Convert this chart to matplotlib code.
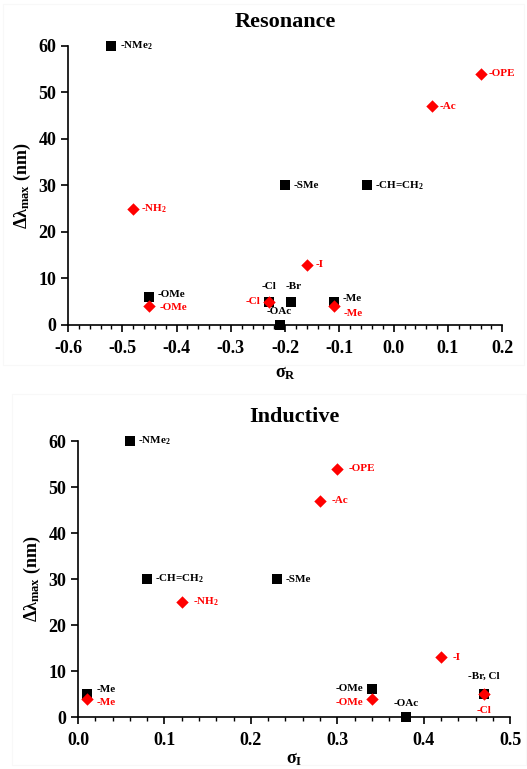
import matplotlib.pyplot as plt
from matplotlib.ticker import MultipleLocator

plt.rcParams['font.family'] = ['Liberation Serif', 'DejaVu Serif']
plt.rcParams['font.weight'] = 'bold'
plt.rcParams['axes.unicode_minus'] = False
plt.rcParams['mathtext.fontset'] = 'custom'
plt.rcParams['mathtext.rm'] = 'Liberation Serif:bold'
plt.rcParams['mathtext.it'] = 'Liberation Serif:bold'
plt.rcParams['mathtext.bf'] = 'Liberation Serif:bold'

# Resonance (sigma_R)
res_black_names = ['-NMe$_2$', '-SMe', '-CH=CH$_2$', '-OMe', '-Cl', '-Br', '-Me', '-OAc']
res_black_x = [-0.52, -0.20, -0.05, -0.45, -0.23, -0.19, -0.11, -0.21]
res_black_y = [60, 30, 30, 6, 5, 5, 5, 0]
res_red_names = ['-OPE', '-Ac', '-NH$_2$', '-I', '-OMe', '-Cl', '-Me']
res_red_x = [0.16, 0.07, -0.48, -0.16, -0.45, -0.23, -0.11]
res_red_y = [54, 47, 25, 13, 4, 5, 4]

# Inductive (sigma_I)
ind_black_names = ['-NMe$_2$', '-CH=CH$_2$', '-SMe', '-Me', '-OMe', '-OAc', '-Br, Cl']
ind_black_x = [0.06, 0.08, 0.23, 0.01, 0.34, 0.38, 0.47]
ind_black_y = [60, 30, 30, 5, 6, 0, 5]
ind_red_names = ['-OPE', '-Ac', '-NH$_2$', '-I', '-Me', '-OMe', '-Cl']
ind_red_x = [0.30, 0.28, 0.12, 0.42, 0.01, 0.34, 0.47]
ind_red_y = [54, 47, 25, 13, 4, 4, 5]

fig = plt.figure(figsize=(5.27, 7.69), dpi=100)

# faint panel frames
for rect in [(0.005, 0.525, 0.99, 0.47), (0.023, 0.005, 0.975, 0.483)]:
    fig.patches.append(plt.Rectangle(rect[:2], rect[2], rect[3], transform=fig.transFigure,
                                     fill=False, ec='#f8f8f8', lw=0.8))

ax1 = fig.add_axes([0.129, 0.5774, 0.824, 0.3628])
ax2 = fig.add_axes([0.148, 0.0676, 0.820, 0.3589])


def style(ax, xlim, xlabel, title, lpad):
    ax.set_xlim(*xlim)
    ax.set_ylim(0, 60)
    ax.spines['top'].set_visible(False)
    ax.spines['right'].set_visible(False)
    ax.spines['left'].set_linewidth(1.2)
    ax.spines['bottom'].set_linewidth(1.2)
    ax.xaxis.set_major_locator(MultipleLocator(0.1))
    ax.xaxis.set_minor_locator(MultipleLocator(0.02))
    ax.yaxis.set_major_locator(MultipleLocator(10))
    ax.tick_params(axis='both', which='major', direction='out', length=5, width=1.2,
                   labelsize=13)
    ax.tick_params(axis='x', which='minor', direction='out', length=3, width=1)
    ax.tick_params(axis='x', which='major', pad=6)
    ax.set_xlabel(xlabel, fontsize=13, fontweight='bold', labelpad=lpad)
    ax.set_ylabel(r'$\Delta\lambda_{\rm max}$ (nm)', fontsize=13, fontweight='bold')
    ax.set_title(title, fontsize=16, fontweight='bold', pad=14)


def plot_points(ax, xs, ys, color, marker, size):
    ax.scatter(xs, ys, marker=marker, s=size, color=color, zorder=3, clip_on=False,
               linewidths=0)


def label(ax, names, xs, ys, color, offsets):
    for n, x, y in zip(names, xs, ys):
        dx, dy, ha = offsets.get(n, (6, 0, 'left'))
        ax.annotate(n, (x, y), textcoords='offset points', xytext=(dx, dy),
                    ha=ha, va='center', fontsize=8, fontweight='bold', color=color,
                    zorder=4, annotation_clip=False)


style(ax1, (-0.6, 0.2), r'$\sigma_{\rm R}$', 'Resonance', 5)
plot_points(ax1, res_black_x, res_black_y, 'black', 's', 55)
plot_points(ax1, res_red_x, res_red_y, 'red', 'D', 40)
label(ax1, res_black_names, res_black_x, res_black_y, 'black',
      {'-Cl': (0, 11, 'center'), '-Br': (2, 11, 'center'), '-OAc': (0, 10, 'center'),
       '-OMe': (6, 2, 'left'), '-Me': (6, 2, 'left')})
label(ax1, res_red_names, res_red_x, res_red_y, 'red',
      {'-Cl': (-6, 0, 'right'), '-Me': (7, -5, 'left'), '-OMe': (7, -1, 'left')})

style(ax2, (0, 0.5), r'$\sigma_{\rm I}$', 'Inductive', 1)
plot_points(ax2, ind_black_x, ind_black_y, 'black', 's', 55)
plot_points(ax2, ind_red_x, ind_red_y, 'red', 'D', 40)
label(ax2, ind_black_names, ind_black_x, ind_black_y, 'black',
      {'-OMe': (-6, 1, 'right'), '-OAc': (0, 10, 'center'), '-Br, Cl': (0, 13, 'center'),
       '-Me': (7, 3, 'left')})
label(ax2, ind_red_names, ind_red_x, ind_red_y, 'red',
      {'-OMe': (-6, -3, 'right'), '-Cl': (0, -12, 'center'), '-Me': (7, -3, 'left'),
       '-NH$_2$': (8, 0, 'left'), '-OPE': (8, 0, 'left'), '-Ac': (8, 0, 'left'),
       '-I': (8, 0, 'left')})

fig.savefig('out.png', dpi=100)
